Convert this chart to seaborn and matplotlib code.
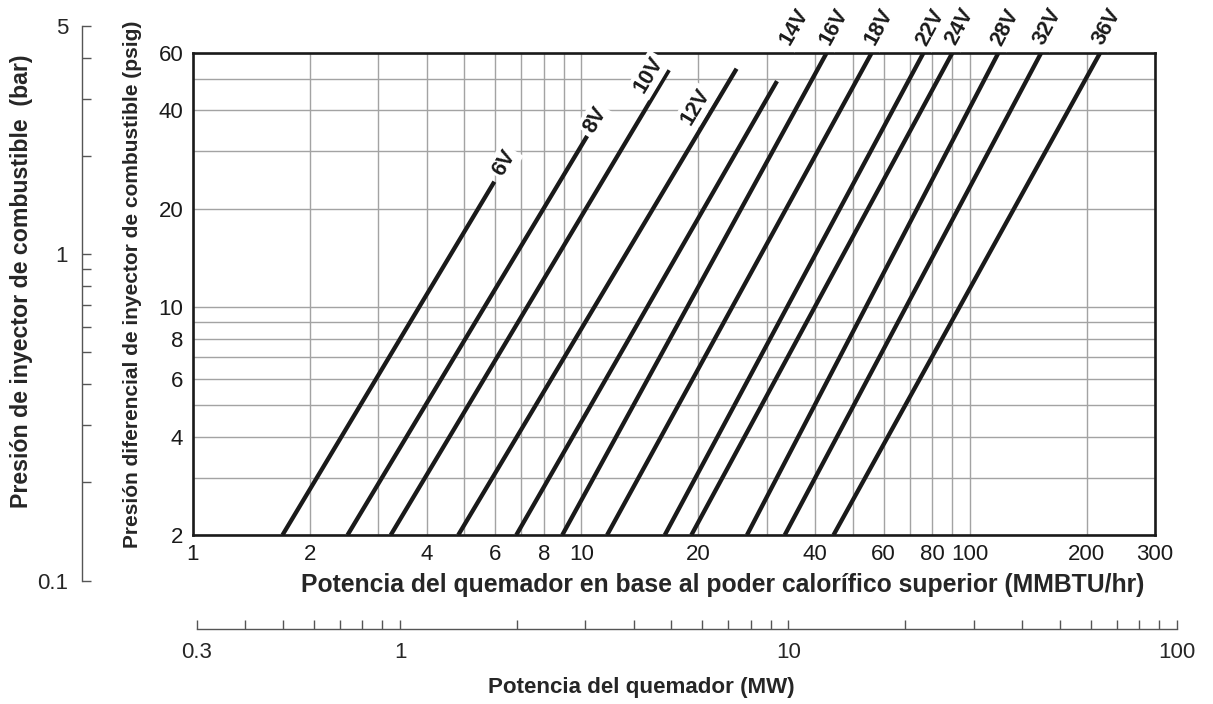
import numpy as np
import pandas as pd
import seaborn as sns
import matplotlib.pyplot as plt
from matplotlib.ticker import FixedLocator, NullFormatter

# Datos: cada linea va de 2 psig hasta su punto final
sizes = ['6V', '8V', '10V', '12V', '14V', '16V', '18V', '22V', '24V', '28V', '32V', '36V']
flow_start = [1.70, 2.50, 3.23, 4.82, 6.80, 8.93, 11.65, 16.4, 19.2, 26.7, 33.4, 44.6]   # MMBTU/hr
psig_start = [2, 2, 2, 2, 2, 2, 2, 2, 2, 2, 2, 2]
flow_end = [5.97, 10.35, 16.8, 25.1, 31.9, 42.8, 55.9, 76.0, 90.2, 118.5, 152.7, 216.6]
psig_end = [24.2, 33.4, 53.2, 53.7, 49.2, 60, 60, 60, 60, 60, 60, 60]

x_ticks = [1, 2, 3, 4, 5, 6, 7, 8, 9, 10, 20, 30, 40, 50, 60, 70, 80, 90, 100, 200, 300]
x_labeled = [1, 2, 4, 6, 8, 10, 20, 40, 60, 80, 100, 200, 300]
y_ticks = [2, 3, 4, 5, 6, 7, 8, 9, 10, 20, 30, 40, 50, 60]
y_labeled = [2, 4, 6, 8, 10, 20, 40, 60]

bar_major = [0.1, 1, 5]
bar_minor = [0.2, 0.3, 0.4, 0.5, 0.6, 0.7, 0.8, 0.9, 2, 3, 4]
mw_major = [0.3, 1, 10, 100]
mw_minor = [0.4, 0.5, 0.6, 0.7, 0.8, 0.9, 2, 3, 4, 5, 6, 7, 8, 9,
            20, 30, 40, 50, 60, 70, 80, 90]

PSI_PER_BAR = 14.5038
MMBTU_PER_MW = 3.41214

df = pd.DataFrame({
    'size': sizes * 2,
    'flow': flow_start + flow_end,
    'psig': psig_start + psig_end,
})

sns.set_theme(style='white')
plt.rcParams['font.family'] = ['Liberation Sans', 'DejaVu Sans']
plt.rcParams['text.color'] = '#1a1a1a'

TICK_FS = 16

W, H = 1213, 704
fig = plt.figure(figsize=(W / 100, H / 100), dpi=100)

# main chart position in pixels
left, right, top, bottom = 193, 1155, 53, 535
ax = fig.add_axes([left / W, 1 - bottom / H, (right - left) / W, (bottom - top) / H])
ax.set_xscale('log')
ax.set_yscale('log')
ax.set_xlim(1, 300)
ax.set_ylim(2, 60)

sns.lineplot(data=df, x='flow', y='psig', units='size', estimator=None, sort=False,
             color='#1a1a1a', lw=3.1, solid_capstyle='butt', ax=ax, zorder=3)

ax.xaxis.set_major_locator(FixedLocator(x_ticks))
ax.yaxis.set_major_locator(FixedLocator(y_ticks))
ax.xaxis.set_minor_locator(FixedLocator([]))
ax.yaxis.set_minor_locator(FixedLocator([]))
ax.set_xticklabels([f'{v:g}' if v in x_labeled else '' for v in x_ticks])
ax.set_yticklabels([f'{v:g}' if v in y_labeled else '' for v in y_ticks])
ax.tick_params(axis='both', length=0, labelsize=TICK_FS, labelcolor='#1a1a1a')
ax.tick_params(axis='x', pad=6.5)
ax.tick_params(axis='y', pad=7)
ax.grid(True, which='major', color='#a3a3a3', lw=1.0)
for s in ax.spines.values():
    s.set_color('#1a1a1a')
    s.set_linewidth(1.9)
    s.set_zorder(4)

ax.set_xlabel('Potencia del quemador en base al poder calorífico superior (MMBTU/hr)',
              fontsize=17.8, fontweight='bold', va='center')
ax.xaxis.set_label_coords(723 / W, 1 - 585 / H, transform=fig.transFigure)
ax.set_ylabel('Presión diferencial de inyector de combustible (psig)',
              fontsize=15, fontweight='bold', va='center')
ax.yaxis.set_label_coords(133 / W, 1 - 284 / H, transform=fig.transFigure)

# line labels
fig.canvas.draw()
label_offsets = {'6V': (10, 19), '8V': (8, 16), '10V': (-20, -5), '12V': (-41, -38)}
for lab, x0, y0, x1, y1 in zip(sizes, flow_start, psig_start, flow_end, psig_end):
    p0 = ax.transData.transform((x0, y0))
    p1 = ax.transData.transform((x1, y1))
    ang = np.degrees(np.arctan2(p1[1] - p0[1], p1[0] - p0[0]))
    if lab in label_offsets:
        xy = (x1, y1)
        off = label_offsets[lab]
    else:
        # extend the line to the top of the chart and put the label above it
        k = (np.log10(x1) - np.log10(x0)) / (np.log10(y1) - np.log10(y0))
        xt = 10 ** (np.log10(x0) + k * (np.log10(60) - np.log10(y0)))
        xy = (xt, 60)
        off = (1, 26) if lab == '14V' else (7, 26)
    ax.annotate(lab, xy=xy, xytext=off, textcoords='offset pixels',
                rotation=ang, rotation_mode='anchor', ha='center', va='center',
                fontsize=15.5, fontweight='bold', color='#1a1a1a',
                bbox=dict(boxstyle='square,pad=0.12', fc='white', ec='none'),
                annotation_clip=False, zorder=5)

# bar axis on the left, aligned with the psig scale
fy0 = 1 - bottom / H
fh = (bottom - top) / H
dec = np.log10(60 / 2)
b_lo = fy0 - np.log10(2 / (0.1 * PSI_PER_BAR)) / dec * fh
b_hi = fy0 + fh + np.log10(5 * PSI_PER_BAR / 60) / dec * fh
bax = fig.add_axes([82 / W, b_lo, 0.001, b_hi - b_lo])
bax.patch.set_alpha(0)
bax.set_yscale('log')
bax.set_ylim(0.1, 5)
bax.set_xticks([])
for name, s in bax.spines.items():
    s.set_visible(name == 'left')
bax.spines['left'].set_color('#555555')
bax.spines['left'].set_linewidth(1.0)
bax.yaxis.set_major_locator(FixedLocator(bar_major))
bax.yaxis.set_minor_locator(FixedLocator(bar_minor))
bax.yaxis.set_minor_formatter(NullFormatter())
bax.set_yticklabels([f'{v:g}' for v in bar_major])
bax.tick_params(axis='y', which='both', direction='in', length=6.5, width=1.0,
                color='#555555', labelsize=TICK_FS, pad=10, left=True)
bax.set_ylabel('Presión de inyector de combustible  (bar)',
               fontsize=16.7, fontweight='bold', va='center')
bax.yaxis.set_label_coords(22 / W, 1 - 281 / H, transform=fig.transFigure)

# MW axis at the bottom, aligned with the MMBTU/hr scale
fx0 = left / W
fw = (right - left) / W
xdec = np.log10(300 / 1)
m_lo = fx0 + np.log10(0.3 * MMBTU_PER_MW) / xdec * fw
m_hi = fx0 + fw + np.log10(100 * MMBTU_PER_MW / 300) / xdec * fw
max_ = fig.add_axes([m_lo, 1 - 629 / H, m_hi - m_lo, 0.001])
max_.patch.set_alpha(0)
max_.set_xscale('log')
max_.set_xlim(0.3, 100)
max_.set_yticks([])
for name, s in max_.spines.items():
    s.set_visible(name == 'bottom')
max_.spines['bottom'].set_color('#555555')
max_.spines['bottom'].set_linewidth(1.0)
max_.xaxis.set_major_locator(FixedLocator(mw_major))
max_.xaxis.set_minor_locator(FixedLocator(mw_minor))
max_.xaxis.set_minor_formatter(NullFormatter())
max_.set_xticklabels([f'{v:g}' for v in mw_major])
max_.tick_params(axis='x', which='both', direction='in', length=6.5, width=1.0,
                 color='#555555', labelsize=TICK_FS, pad=9, bottom=True)
max_.set_xlabel('Potencia del quemador (MW)', fontsize=16.1, fontweight='bold', va='center')
max_.xaxis.set_label_coords(641 / W, 1 - 688 / H, transform=fig.transFigure)

fig.savefig('out.png', dpi=100)
